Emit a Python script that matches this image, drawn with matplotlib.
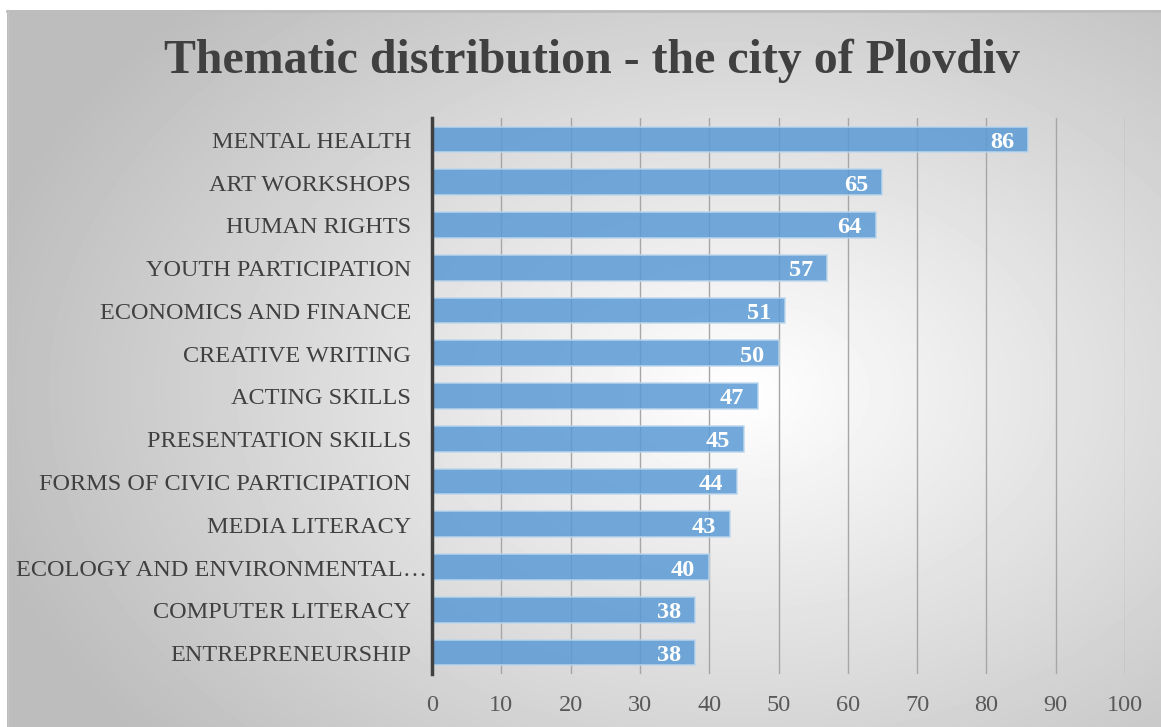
import matplotlib.pyplot as plt
import matplotlib.transforms as mtransforms
import numpy as np

# data, top to bottom as drawn
topics = [
    "MENTAL HEALTH",
    "ART WORKSHOPS",
    "HUMAN RIGHTS",
    "YOUTH PARTICIPATION",
    "ECONOMICS AND FINANCE",
    "CREATIVE WRITING",
    "ACTING SKILLS",
    "PRESENTATION SKILLS",
    "FORMS OF CIVIC PARTICIPATION",
    "MEDIA LITERACY",
    "ECOLOGY AND ENVIRONMENTAL\u2026",
    "COMPUTER LITERACY",
    "ENTREPRENEURSHIP",
]
counts = [86, 65, 64, 57, 51, 50, 47, 45, 44, 43, 40, 38, 38]
x_ticks = [0, 10, 20, 30, 40, 50, 60, 70, 80, 90, 100]

TEXT = "#404040"
TICK = "#595959"
BAR = "#5B9BD5"
BAR_EDGE = "#BDD7EE"
GRID = "#A6A6A6"

plt.rcParams["font.family"] = ["Liberation Serif", "DejaVu Serif"]

W, H = 1161, 727
fig = plt.figure(figsize=(W / 100, H / 100), dpi=100)

# radial gradient background inside the chart frame
bg = fig.add_axes([0, 0, 1, 1], zorder=-2)
bg.set_xlim(0, W)
bg.set_ylim(H, 0)
bg.axis("off")
yy, xx = np.mgrid[10:H, 7:W]
cx, cy = 740, 390
r = np.sqrt(((xx - cx) / 780.0) ** 2 + ((yy - cy) / 540.0) ** 2)
shade = np.clip(1.0 - 0.26 * r, 0.74, 1.0)
bg.imshow(shade, cmap="gray", vmin=0, vmax=1, extent=(7, W, H, 10),
          interpolation="bilinear", aspect="auto")
bg.plot([7, W], [10.5, 10.5], color="#BDBDBD", lw=2)
bg.plot([7.5, 7.5], [10, H], color="#C4C4C4", lw=1)

ax = fig.add_axes([432 / W, 1 - 674 / H, (1125 - 432) / W, (674 - 118) / H])
ax.patch.set_alpha(0)

y = np.arange(len(topics))
ax.barh(y, counts, height=0.6, color=BAR, alpha=0.85, edgecolor=BAR_EDGE,
        linewidth=1.2, zorder=3)

ax.set_xlim(0, 100)
ax.set_ylim(len(topics) - 0.5, -0.5)
ax.set_xticks(x_ticks)
ax.set_yticks([])
ax.grid(axis="x", color=GRID, linewidth=1, zorder=0)
for s in ["top", "right", "bottom"]:
    ax.spines[s].set_visible(False)
ax.spines["left"].set_color(TEXT)
ax.spines["left"].set_linewidth(2.5)
ax.spines["left"].set_zorder(4)
ax.tick_params(axis="x", length=0, pad=15, labelsize=17.5, labelcolor=TICK)

# category labels
lab_tr = mtransforms.offset_copy(ax.get_yaxis_transform(), fig=fig, x=-21, y=-3, units="dots")
for i, name in enumerate(topics):
    dx = 16 if name.endswith("\u2026") else 0
    ax.text(0, i, name, transform=mtransforms.offset_copy(lab_tr, fig=fig, x=dx, units="dots"),
            ha="right", va="center", fontsize=17.5, color=TEXT)

# value labels inside bar ends
val_tr = mtransforms.offset_copy(ax.transData, fig=fig, x=-14, y=-3, units="dots")
for i, v in enumerate(counts):
    ax.text(v, i, str(v), transform=val_tr, ha="right", va="center",
            fontsize=17.5, fontweight="bold", color="white", zorder=5)

fig.text(592 / W, 1 - 61 / H, "Thematic distribution - the city of Plovdiv",
         ha="center", va="center", fontsize=34.5, fontweight="bold", color=TEXT)

fig.savefig("out.png", dpi=100)
